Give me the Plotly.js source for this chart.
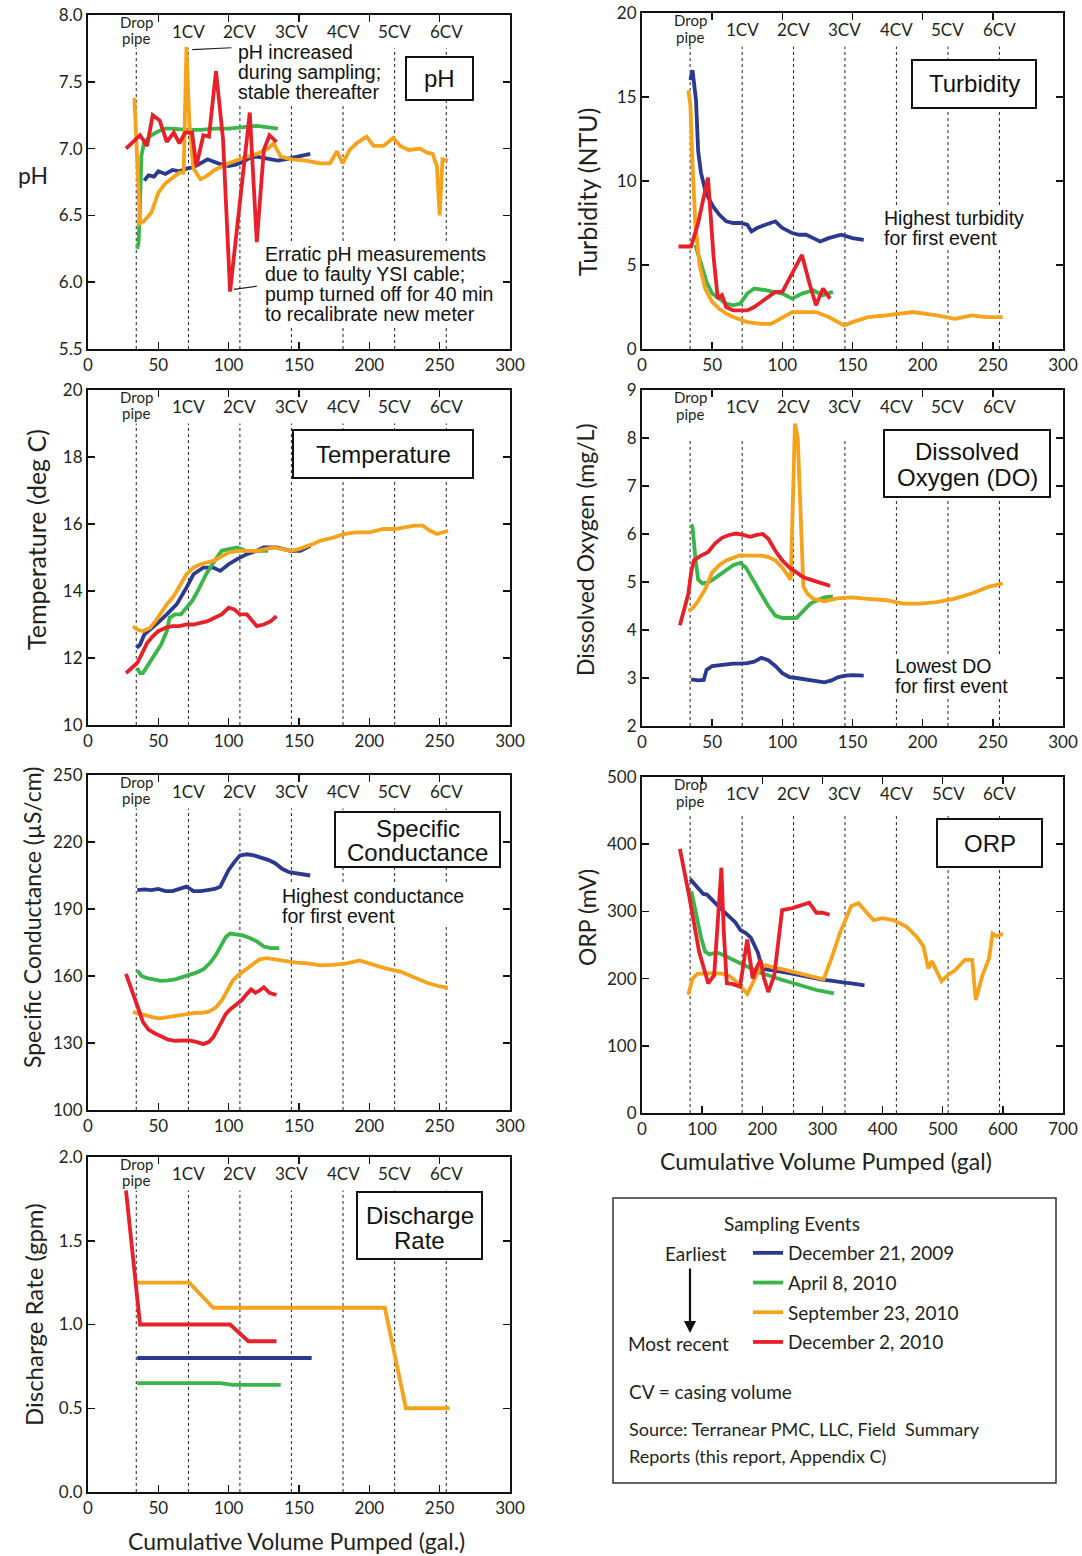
<!DOCTYPE html>
<html><head><meta charset="utf-8">
<script src="https://cdn.plot.ly/plotly-3.0.1.min.js"></script>
<style>html,body{margin:0;padding:0;background:#fff}#chart{width:1082px;height:1556px}</style>
</head><body><div id="chart"></div>
<script>
// ---------- categories / labels ----------
const seriesNames = ['December 21, 2009', 'April 8, 2010', 'September 23, 2010', 'December 2, 2010'];
const cvLabels = ['Drop<br>pipe', '1CV', '2CV', '3CV', '4CV', '5CV', '6CV'];
const cvX = [34.3, 71.4, 108, 144.6, 181.3, 218, 254.7];
const orpCvX = [80, 166.5, 252, 337.5, 423, 509, 594.5];

// ---------- pH ----------
const phBlueX = [40, 43, 47, 50, 55, 60, 65, 70, 75, 80, 85, 90, 95, 100, 105, 110, 115, 120, 125, 130, 135, 140, 145, 150, 155, 158];
const phBlueY = [6.76, 6.80, 6.79, 6.83, 6.81, 6.84, 6.83, 6.85, 6.86, 6.89, 6.92, 6.90, 6.88, 6.87, 6.88, 6.90, 6.93, 6.94, 6.93, 6.92, 6.91, 6.92, 6.93, 6.94, 6.95, 6.96];
const phGreenX = [35, 36, 37, 38, 40, 45, 50, 55, 60, 70, 80, 90, 100, 110, 120, 127, 135];
const phGreenY = [6.25, 6.3, 6.6, 6.95, 7.05, 7.10, 7.13, 7.15, 7.15, 7.14, 7.14, 7.15, 7.15, 7.16, 7.17, 7.16, 7.15];
const phOrangeX = [33, 35, 37, 40, 45, 50, 55, 60, 65, 68, 70, 72, 75, 80, 85, 90, 100, 110, 120, 128, 132, 137, 145, 155, 165, 172, 177, 181, 186, 191, 198, 203, 210, 217, 222, 228, 236, 241, 245, 248, 250, 252, 256];
const phOrangeY = [7.38, 6.9, 6.44, 6.46, 6.52, 6.67, 6.74, 6.78, 6.82, 6.82, 7.76, 7.2, 6.85, 6.77, 6.80, 6.84, 6.89, 6.93, 6.96, 7.0, 7.04, 6.94, 6.92, 6.91, 6.89, 6.89, 6.98, 6.89, 6.99, 7.04, 7.09, 7.02, 7.02, 7.08, 7.02, 6.99, 7.0, 6.97, 6.96, 6.87, 6.5, 6.92, 6.91];
const phRedX = [27, 32, 37, 42, 46, 51, 56, 61, 65, 69, 74, 77, 82, 86, 91, 96, 101, 115, 120, 125, 129, 134];
const phRedY = [7.0, 7.05, 7.1, 7.02, 7.25, 7.21, 7.05, 7.12, 7.04, 7.12, 7.12, 6.87, 7.1, 7.09, 7.58, 7.07, 5.93, 7.27, 6.3, 6.99, 7.1, 7.05];

// ---------- Turbidity ----------
const tuBlueX = [34.5, 36, 38.5, 40, 42, 45.5, 50.5, 55, 60, 65, 70, 75, 78, 82, 88, 95, 100, 107, 112, 117, 122, 127, 133, 142, 150, 158];
const tuBlueY = [16.0, 16.6, 14.8, 11.8, 10.5, 9.3, 8.5, 8.0, 7.6, 7.5, 7.5, 7.4, 7.0, 7.2, 7.4, 7.6, 7.2, 6.9, 6.8, 6.8, 6.6, 6.4, 6.6, 6.8, 6.6, 6.5];
const tuGreenX = [38, 40, 43, 46, 50, 55, 60, 65, 70, 75, 80, 88, 95, 100, 107, 114, 122, 129, 136];
const tuGreenY = [6.2, 5.6, 4.8, 4.0, 3.3, 3.0, 2.7, 2.6, 2.7, 3.3, 3.6, 3.5, 3.4, 3.3, 3.0, 3.3, 3.5, 3.2, 3.4];
const tuOrangeX = [33, 34.5, 36, 38, 41, 45, 50, 55, 60, 65, 75, 85, 92, 100, 107, 115, 124, 133, 140, 144, 150, 161, 174, 193, 210, 223, 235, 245, 257];
const tuOrangeY = [15.4, 14.5, 11.0, 7.5, 5.0, 3.6, 2.8, 2.4, 2.1, 1.9, 1.6, 1.5, 1.5, 1.9, 2.2, 2.2, 2.2, 1.9, 1.6, 1.4, 1.6, 1.9, 2.0, 2.2, 2.0, 1.8, 2.0, 1.9, 1.9];
const tuRedX = [26, 30, 35, 40, 47, 51, 54, 57, 60, 65, 75, 80, 88, 95, 100, 108, 114, 119, 124, 129, 134];
const tuRedY = [6.1, 6.1, 6.1, 7.5, 10.2, 5.5, 3.0, 3.2, 2.5, 2.3, 2.3, 2.5, 3.0, 3.4, 3.4, 4.6, 5.6, 4.0, 2.6, 3.6, 3.0];

// ---------- Temperature ----------
const teBlueX = [34.5, 37, 40, 46, 51, 56, 63, 70, 75, 82, 89, 94, 100, 106, 113, 120, 125, 134, 144, 151, 158];
const teBlueY = [12.3, 12.4, 12.7, 12.9, 13.1, 13.3, 13.6, 14.1, 14.5, 14.7, 14.7, 14.6, 14.8, 14.95, 15.1, 15.2, 15.3, 15.3, 15.2, 15.2, 15.35];
const teGreenX = [35, 37, 39, 43, 47, 52, 56, 58, 62, 66, 70, 74, 78, 84, 90, 95, 100, 106, 112, 118, 124, 128];
const teGreenY = [11.7, 11.55, 11.55, 11.8, 12.1, 12.4, 12.8, 13.2, 13.3, 13.3, 13.5, 13.7, 14.0, 14.5, 14.9, 15.2, 15.25, 15.3, 15.2, 15.2, 15.2, 15.2];
const teOrangeX = [32, 35, 39, 44, 48, 51, 56, 61, 66, 70, 75, 80, 89, 95, 100, 108, 115, 120, 126, 132, 138, 144, 150, 154, 160, 165, 170, 175, 182, 190, 200, 210, 218, 225, 232, 238, 243, 248, 252, 256];
const teOrangeY = [12.95, 12.85, 12.8, 12.9, 13.1, 13.3, 13.6, 13.85, 14.2, 14.5, 14.7, 14.8, 14.9, 15.05, 15.15, 15.2, 15.2, 15.2, 15.25, 15.3, 15.25, 15.2, 15.25, 15.3, 15.4, 15.5, 15.55, 15.6, 15.7, 15.75, 15.75, 15.85, 15.85, 15.9, 15.95, 15.95, 15.8, 15.7, 15.75, 15.8];
const teRedX = [27, 31, 35, 38, 42, 46, 50, 55, 60, 65, 70, 75, 80, 85, 90, 95, 100, 104, 108, 113, 117, 120, 125, 130, 134];
const teRedY = [11.55, 11.7, 11.85, 12.1, 12.45, 12.65, 12.8, 12.9, 12.95, 12.95, 13.0, 13.0, 13.05, 13.1, 13.2, 13.3, 13.5, 13.45, 13.3, 13.3, 13.1, 12.95, 13.0, 13.1, 13.25];

// ---------- Dissolved Oxygen ----------
const doBlueX = [35, 40, 44, 46, 50, 55, 60, 65, 70, 75, 80, 85, 90, 95, 100, 105, 110, 115, 120, 125, 130, 135, 140, 145, 150, 158];
const doBlueY = [2.97, 2.95, 2.96, 3.17, 3.25, 3.27, 3.28, 3.3, 3.3, 3.31, 3.34, 3.42, 3.37, 3.25, 3.1, 3.02, 3.0, 2.98, 2.96, 2.93, 2.91, 2.95, 3.02, 3.05, 3.06, 3.05];
const doGreenX = [35, 36, 38, 40, 43, 47, 50, 55, 60, 65, 70, 74, 78, 82, 86, 90, 95, 100, 105, 110, 115, 120, 125, 130, 136];
const doGreenY = [6.2, 6.15, 5.5, 5.05, 4.97, 4.99, 5.04, 5.15, 5.25, 5.35, 5.4, 5.3, 5.1, 4.9, 4.7, 4.5, 4.3, 4.25, 4.25, 4.25, 4.4, 4.55, 4.62, 4.68, 4.7];
const doOrangeX = [33, 36, 40, 45, 50, 55, 60, 65, 70, 75, 80, 85, 90, 95, 100, 104, 106, 109, 111, 115, 118, 122, 130, 139, 149, 161, 174, 186, 198, 210, 222, 235, 247, 257];
const doOrangeY = [4.4, 4.45, 4.6, 4.85, 5.2, 5.35, 5.45, 5.5, 5.56, 5.55, 5.55, 5.55, 5.52, 5.45, 5.3, 5.15, 5.05, 8.3, 8.0, 4.9, 4.75, 4.65, 4.6, 4.66, 4.68, 4.65, 4.62, 4.55, 4.55, 4.58, 4.65, 4.76, 4.9, 4.97];
const doRedX = [27, 30, 33, 35, 37, 42, 47, 52, 57, 62, 67, 72, 77, 82, 86, 90, 95, 100, 105, 110, 115, 120, 125, 130, 134];
const doRedY = [4.1, 4.4, 4.75, 5.2, 5.45, 5.55, 5.62, 5.8, 5.92, 5.98, 6.01, 5.98, 5.94, 5.98, 6.0, 5.9, 5.65, 5.45, 5.3, 5.2, 5.1, 5.05, 5.0, 4.95, 4.92];

// ---------- Specific Conductance ----------
const scBlueX = [35, 40, 45, 50, 55, 60, 65, 70, 75, 80, 85, 90, 94, 97, 100, 104, 108, 113, 118, 123, 128, 133, 138, 143, 148, 153, 158];
const scBlueY = [198.5, 198.8, 198.5, 199, 198, 198, 199, 200, 198, 198, 198.5, 199, 200, 204, 207.5, 211, 214, 214.5, 214, 213, 212, 210.5, 208, 206.5, 206, 205.5, 205];
const scGreenX = [35, 38, 42, 47, 52, 57, 62, 67, 72, 77, 82, 87, 91, 95, 98, 101, 105, 110, 115, 120, 125, 130, 136];
const scGreenY = [162.5, 160, 159, 158.2, 157.8, 158, 158.5, 159.5, 160.5, 161.5, 163, 166, 169.5, 174, 177.5, 179, 178.8, 178.2, 177, 175.5, 173.2, 172.5, 172.5];
const scOrangeX = [32, 36, 41, 46, 51, 56, 61, 66, 71, 76, 81, 86, 91, 95, 99, 103, 107, 112, 117, 122, 127, 133, 141, 148, 156, 165, 174, 184, 193, 203, 212, 222, 231, 241, 250, 256];
const scOrangeY = [144, 143, 142.5, 141.5, 141, 141.5, 142, 142.5, 143, 143.5, 143.5, 144, 146, 149, 153.5, 158, 160.5, 163, 165.5, 167.5, 168, 167.5, 166.5, 166, 165.7, 164.8, 165, 165.7, 167, 165, 163.3, 162, 159.5, 157, 155.3, 154.8];
const scRedX = [27, 30, 33, 36, 39, 43, 47, 52, 57, 62, 67, 72, 77, 82, 86, 89, 92, 95, 98, 101, 105, 109, 113, 116, 119, 122, 125, 129, 134];
const scRedY = [161, 156, 150.5, 145, 139.5, 136, 134.5, 133, 131.5, 131, 131, 131.2, 130.5, 129.5, 130.5, 132.5, 136, 139.5, 143, 145, 147, 149, 152, 154, 152.5, 153.5, 155, 152.5, 151.5];

// ---------- ORP ----------
const orBlueX = [80, 88, 95, 102, 108, 115, 122, 129, 137, 146, 155, 164, 172, 181, 187, 193, 198, 205, 212, 222, 233, 245, 256, 268, 279, 290, 302, 314, 325, 337, 348, 360, 370];
const orBlueY = [348, 340, 332, 326, 325, 318, 312, 306, 299, 292, 284, 272, 268, 261, 250, 238, 220, 214, 213, 212, 210, 208, 206, 205, 203, 200, 198, 197, 195, 194, 193, 192, 190];
const orGreenX = [82, 90, 98, 105, 112, 120, 128, 140, 152, 164, 175, 187, 198, 210, 222, 233, 245, 256, 267, 279, 290, 302, 319];
const orGreenY = [330, 295, 262, 240, 236, 238, 238, 233, 228, 223, 218, 213, 208, 205, 201, 198, 195, 192, 189, 186, 183, 181, 178];
const orOrangeX = [77, 84, 92, 105, 120, 135, 145, 155, 165, 175, 185, 196, 206, 220, 233, 250, 267, 285, 302, 315, 330, 348, 360, 372, 385, 400, 418, 440, 457, 468, 476, 482, 490, 498, 508, 520, 537, 549, 555, 566, 577, 583, 590, 600];
const orOrangeY = [176, 200, 207, 208, 208, 207, 204, 197, 188, 177, 196, 215, 220, 216, 214, 210, 207, 203, 199, 230, 270, 308, 312, 300, 287, 290, 287, 277, 262, 248, 215, 226, 210, 196, 205, 212, 228, 228, 168, 205, 230, 267, 263, 267];
const orRedX = [63, 78, 95, 110, 120, 127, 132, 136, 141, 150, 163, 175, 184, 190, 197, 203, 210, 220, 228, 233, 250, 267, 278, 290, 300, 312];
const orRedY = [393, 325, 240, 193, 205, 300, 365, 270, 193, 192, 188, 258, 200, 215, 228, 200, 180, 205, 260, 302, 305, 310, 313, 298, 298, 295];

// ---------- Discharge rate ----------
const drBlueX = [35, 60, 90, 120, 159];
const drBlueY = [0.8, 0.8, 0.8, 0.8, 0.8];
const drGreenX = [35, 94, 103, 137];
const drGreenY = [0.65, 0.65, 0.64, 0.64];
const drOrangeX = [35, 72, 89, 211, 226, 257];
const drOrangeY = [1.25, 1.25, 1.1, 1.1, 0.5, 0.5];
const drRedX = [27, 37, 101, 114, 134];
const drRedY = [1.8, 1.0, 1.0, 0.9, 0.9];

// ---------- styling ----------
const W = 1082, H = 1556;
const fx = p => p / W, fy = p => 1 - p / H;
const colors = ['#2b3990', '#3ab54a', '#f7a21b', '#e8202a'];
const SANS = "Lato, 'Open Sans', sans-serif";
const ARIAL = "'Liberation Sans', Arial, sans-serif";
const TXT = '#231f20';

const panels = [
  {xd: [88, 510], yd: [15, 349], xr: [0, 300], yr: [5.5, 8], ydt: 0.5, yfmt: '.1f', xdt: 50, cv: cvX, top: 0.9,
   data: [[phBlueX, phBlueY], [phGreenX, phGreenY], [phOrangeX, phOrangeY], [phRedX, phRedY]]},
  {xd: [642, 1063], yd: [13, 349], xr: [0, 300], yr: [0, 20], ydt: 5, yfmt: '', xdt: 50, cv: cvX, top: 0.9,
   data: [[tuBlueX, tuBlueY], [tuGreenX, tuGreenY], [tuOrangeX, tuOrangeY], [tuRedX, tuRedY]]},
  {xd: [88, 510], yd: [390, 725], xr: [0, 300], yr: [10, 20], ydt: 2, yfmt: '', xdt: 50, cv: cvX, top: 0.9,
   data: [[teBlueX, teBlueY], [teGreenX, teGreenY], [teOrangeX, teOrangeY], [teRedX, teRedY]]},
  {xd: [642, 1063], yd: [390, 726], xr: [0, 300], yr: [2, 9], ydt: 1, yfmt: '', xdt: 50, cv: cvX, top: 0.857,
   data: [[doBlueX, doBlueY], [doGreenX, doGreenY], [doOrangeX, doOrangeY], [doRedX, doRedY]]},
  {xd: [88, 510], yd: [775, 1110], xr: [0, 300], yr: [100, 250], ydt: 30, yfmt: '', xdt: 50, cv: cvX, top: 0.9,
   data: [[scBlueX, scBlueY], [scGreenX, scGreenY], [scOrangeX, scOrangeY], [scRedX, scRedY]]},
  {xd: [642, 1063], yd: [777, 1113], xr: [0, 700], yr: [0, 500], ydt: 100, yfmt: '', xdt: 100, cv: orpCvX, top: 0.89,
   data: [[orBlueX, orBlueY], [orGreenX, orGreenY], [orOrangeX, orOrangeY], [orRedX, orRedY]]},
  {xd: [88, 510], yd: [1157, 1492], xr: [0, 300], yr: [0, 2], ydt: 0.5, yfmt: '.1f', xdt: 50, cv: cvX, top: 0.9,
   data: [[drBlueX, drBlueY], [drGreenX, drGreenY], [drOrangeX, drOrangeY], [drRedX, drRedY]]}
];

const traces = [];
const layout = {
  width: W, height: H, margin: {l: 0, r: 0, t: 0, b: 0},
  paper_bgcolor: '#fff', plot_bgcolor: '#fff',
  font: {family: SANS, size: 17, color: TXT},
  showlegend: true,
  legend: {x: fx(748), y: fy(1234), xanchor: 'left', yanchor: 'top', bgcolor: 'rgba(0,0,0,0)',
           font: {family: SANS, size: 19, color: TXT}, tracegroupgap: 2, itemwidth: 30},
  shapes: [], annotations: []
};

const axisCommon = {
  showline: true, linecolor: '#111', linewidth: 2, mirror: 'ticks', ticks: 'inside', ticklen: 7,
  tickwidth: 1.5, tickcolor: '#111', showgrid: false, zeroline: false, fixedrange: true,
  tickfont: {family: SANS, size: 17, color: TXT}
};

panels.forEach((p, i) => {
  const s = i === 0 ? '' : String(i + 1);
  layout['xaxis' + s] = Object.assign({}, axisCommon, {
    domain: [fx(p.xd[0]), fx(p.xd[1])], range: p.xr, dtick: p.xdt, tick0: 0, anchor: 'y' + s});
  layout['yaxis' + s] = Object.assign({}, axisCommon, {
    domain: [fy(p.yd[1]), fy(p.yd[0])], range: p.yr, dtick: p.ydt, tick0: p.yr[0], anchor: 'x' + s,
    tickformat: p.yfmt});
  p.data.forEach((d, k) => {
    traces.push({
      type: 'scatter', mode: 'lines', x: d[0], y: d[1], xaxis: 'x' + s, yaxis: 'y' + s,
      name: seriesNames[k], legendgroup: 'g' + k, showlegend: i === 0,
      line: {color: colors[k], width: 3.8}, hoverinfo: 'skip'
    });
  });
  p.cv.forEach((v, j) => {
    layout.shapes.push({type: 'line', xref: 'x' + s, yref: 'y' + s + ' domain', x0: v, x1: v, y0: 0, y1: p.top,
      line: {color: '#222', width: 1, dash: 'dot'}, layer: 'below'});
    const parts = cvLabels[j].split('<br>');
    if (parts.length === 2) {
      [0.978, 0.930].forEach((yy, q) => layout.annotations.push({xref: 'x' + s, yref: 'y' + s + ' domain', x: v, y: yy,
        yanchor: 'middle', text: parts[q], showarrow: false, font: {family: SANS, size: 15, color: TXT}}));
    } else {
      layout.annotations.push({xref: 'x' + s, yref: 'y' + s + ' domain', x: v, y: 0.952, yanchor: 'middle',
        text: cvLabels[j], showarrow: false, font: {family: SANS, size: 17, color: TXT}});
    }
  });
});

// ---------- titles ----------
function ann(text, px, py, opts) {
  layout.annotations.push(Object.assign({xref: 'paper', yref: 'paper', x: fx(px), y: fy(py), text: text,
    showarrow: false, xanchor: 'center', yanchor: 'middle', font: {family: SANS, size: 23, color: TXT}}, opts || {}));
}
const big = sz => ({family: SANS, size: sz, color: TXT});
ann('pH', 33, 175, {font: big(23)});
ann('Turbidity (NTU)', 587, 192, {textangle: -90, font: big(25)});
ann('Temperature (deg C)', 36, 540, {textangle: -90, font: big(25)});
ann('Dissolved Oxygen (mg/L)', 585, 550, {textangle: -90, font: big(23)});
ann('Specific Conductance (µS/cm)', 32, 918, {textangle: -90, font: big(23)});
ann('ORP (mV)', 587, 918, {textangle: -90, font: big(23)});
ann('Discharge Rate (gpm)', 33, 1315, {textangle: -90, font: big(24)});
ann('Cumulative Volume Pumped (gal)', 826, 1161);
ann('Cumulative Volume Pumped (gal.)', 296, 1541);

// ---------- white backing rectangle (drawn above traces, below text) ----------
function whiteRect(x0, y0, x1, y1, border) {
  layout.shapes.push({type: 'rect', xref: 'paper', yref: 'paper', x0: fx(x0), x1: fx(x1), y0: fy(y1), y1: fy(y0),
    line: border ? {color: '#111', width: 2} : {width: 0}, fillcolor: '#fff', layer: 'above'});
}

// ---------- panel name boxes ----------
function box(lines, ys, x0, y0, x1, y1) {
  whiteRect(x0, y0, x1, y1, true);
  lines.forEach((t, q) => ann(t, (x0 + x1) / 2, ys[q], {font: {family: ARIAL, size: 24, color: '#111'}}));
}
box(['pH'], [78], 406, 57, 473, 100);
box(['Turbidity'], [84], 912, 60, 1036, 108);
box(['Temperature'], [454], 293, 430, 473, 478);
box(['Dissolved', 'Oxygen (DO)'], [451, 477], 884, 430, 1050, 497);
box(['Specific', 'Conductance'], [828, 853], 335, 812, 500, 867);
box(['ORP'], [843], 937, 819, 1042, 867);
box(['Discharge', 'Rate'], [1215, 1240], 357, 1192, 482, 1259);

// ---------- notes ----------
const noteFont = {family: ARIAL, size: 19.5, color: '#111'};
function note(lines, px, py0, wRect) {
  whiteRect(px - 2, py0 - 11, px + wRect, py0 + (lines.length - 1) * 20 + 11, false);
  lines.forEach((t, q) => ann(t, px, py0 + q * 20, {xanchor: 'left', align: 'left', font: noteFont}));
}
note(['pH increased', 'during sampling;', 'stable thereafter'], 236, 52, 146);
note(['Erratic pH measurements', 'due to faulty YSI cable;', 'pump turned off for 40 min', 'to recalibrate new meter'], 263, 254, 234);
note(['Highest turbidity', 'for first event'], 882, 218, 146);
note(['Lowest DO', 'for first event'], 893, 666, 118);
note(['Highest conductance', 'for first event'], 280, 896, 186);
// leader lines
layout.annotations.push({xref: 'x', yref: 'y', axref: 'x', ayref: 'y', x: 102, y: 7.755, ax: 73, ay: 7.74,
  text: '', showarrow: true, arrowhead: 0, arrowwidth: 1.2, arrowcolor: '#222'});
layout.annotations.push({xref: 'x', yref: 'y', axref: 'x', ayref: 'y', x: 120, y: 5.97, ax: 102.5, ay: 5.945,
  text: '', showarrow: true, arrowhead: 0, arrowwidth: 1.2, arrowcolor: '#222'});

// ---------- legend box ----------
layout.shapes.push({type: 'rect', xref: 'paper', yref: 'paper', x0: fx(613), x1: fx(1056), y0: fy(1483), y1: fy(1198),
  line: {color: '#333', width: 1.5}, fillcolor: 'rgba(0,0,0,0)'});
ann('Sampling Events', 792, 1223, {font: big(19)});
ann('Earliest', 729, 1253, {xanchor: 'right', font: big(19)});
ann('Most recent', 731, 1343, {xanchor: 'right', font: big(19)});
layout.annotations.push({xref: 'paper', yref: 'paper', x: fx(690), y: fy(1333), ax: 0, ay: -66, text: '',
  showarrow: true, arrowhead: 2, arrowsize: 1.1, arrowwidth: 2.2, arrowcolor: '#111'});
ann('CV = casing volume', 627, 1391, {xanchor: 'left', font: big(19)});
ann('Source: Terranear PMC, LLC, Field  Summary', 627, 1429, {xanchor: 'left', font: big(18)});
ann('Reports (this report, Appendix C)', 627, 1456, {xanchor: 'left', font: big(18)});

Plotly.newPlot('chart', traces, layout, {staticPlot: true, displayModeBar: false});
</script>
</body></html>
